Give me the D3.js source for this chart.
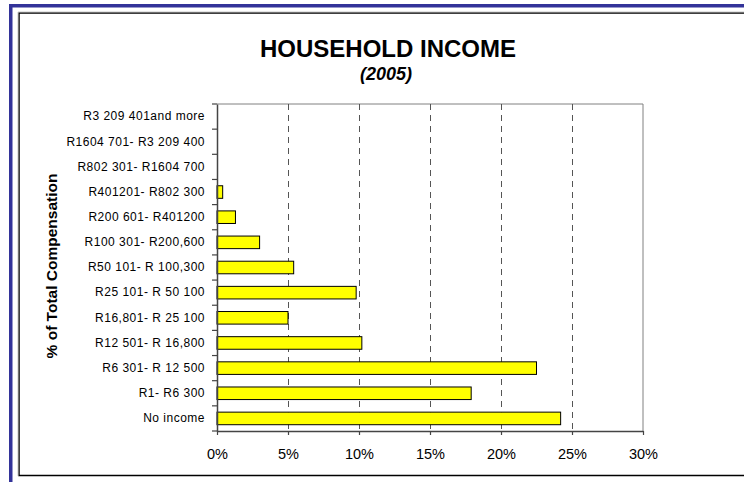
<!DOCTYPE html>
<html>
<head>
<meta charset="utf-8">
<script src="https://cdn.jsdelivr.net/npm/d3@7"></script>
<style>
  html, body { margin: 0; padding: 0; background: #fff; }
  svg { display: block; font-family: "Liberation Sans", Arial, sans-serif; }
</style>
</head>
<body>
<svg id="chart" width="744" height="482"></svg>
<script>
// Income brackets, top to bottom as listed on the axis
const categories = [
  "R3 209 401and more",
  "R1604 701- R3 209 400",
  "R802 301- R1604 700",
  "R401201- R802 300",
  "R200 601- R401200",
  "R100 301- R200,600",
  "R50 101- R 100,300",
  "R25 101- R 50 100",
  "R16,801- R 25 100",
  "R12 501- R 16,800",
  "R6 301- R  12 500",
  "R1- R6 300",
  "No income"
];
// Share of households in each bracket (%)
const values = [0, 0, 0, 0.4, 1.3, 3.0, 5.4, 9.8, 5.0, 10.2, 22.5, 17.9, 24.2];
const xTicks = [0, 5, 10, 15, 20, 25, 30];
const title = "HOUSEHOLD INCOME";
const subtitle = "(2005)";
const yTitle = "% of Total Compensation";

const svg = d3.select("#chart");

// outer frame: blue band on top and left, black chart border inside
svg.append("rect").attr("x", 9).attr("y", 4).attr("width", 735).attr("height", 3.5).attr("fill", "#333399");
svg.append("rect").attr("x", 9).attr("y", 4).attr("width", 3.5).attr("height", 478).attr("fill", "#333399");
svg.append("path")
  .attr("d", "M744,13 H19 V475.5 H744")
  .attr("fill", "none").attr("stroke", "#000").attr("stroke-width", 1.5);
svg.append("path")
  .attr("d", "M744,12 H18 V476")
  .attr("fill", "none").attr("stroke", "#bbb").attr("stroke-width", 0.8);

const plot = { left: 217, right: 643, top: 104, bottom: 431 };

const x = d3.scaleLinear().domain([0, 30]).range([plot.left, plot.right]);
const y = d3.scaleBand().domain(categories).range([plot.top, plot.bottom]).paddingInner(0.5).paddingOuter(0.25);
const yEdges = d3.scaleLinear().domain([0, categories.length]).range([plot.top, plot.bottom]);

// plot area outline (top and right)
svg.append("path")
  .attr("d", `M${plot.left},${plot.top} H${plot.right} V${plot.bottom}`)
  .attr("fill", "none").attr("stroke", "#808080").attr("stroke-width", 1);

// dashed vertical gridlines
svg.append("g")
  .selectAll("line")
  .data(xTicks.filter(t => t > 0 && t < 30))
  .join("line")
  .attr("x1", d => Math.round(x(d)) + 0.5).attr("x2", d => Math.round(x(d)) + 0.5)
  .attr("y1", plot.top).attr("y2", plot.bottom)
  .attr("stroke", "#555").attr("stroke-width", 1)
  .attr("stroke-dasharray", "6,5");

// bars
svg.append("g")
  .selectAll("rect")
  .data(categories.map((c, i) => ({ c, v: values[i] })).filter(d => d.v > 0))
  .join("rect")
  .attr("x", x(0))
  .attr("y", d => y(d.c))
  .attr("width", d => x(d.v) - x(0))
  .attr("height", y.bandwidth())
  .attr("fill", "#ffff00")
  .attr("stroke", "#000").attr("stroke-width", 1);

// x axis
const xAxis = svg.append("g")
  .attr("transform", `translate(0,${plot.bottom})`)
  .call(d3.axisBottom(x).tickValues(xTicks).tickFormat(d => d + "%").tickSize(4).tickSizeOuter(0).tickPadding(14));
xAxis.select(".domain").attr("stroke", "#444").attr("stroke-width", 1.5);
xAxis.selectAll(".tick line").attr("stroke", "#444").attr("stroke-width", 1.2);
xAxis.selectAll(".tick text").attr("font-size", "14.5px").attr("fill", "#000")
  .attr("font-family", "Liberation Sans, Arial, sans-serif");

// y axis: labels per band, ticks at band edges
const yAxis = svg.append("g")
  .attr("transform", `translate(${plot.left},0)`)
  .call(d3.axisLeft(y).tickSize(0).tickPadding(12));
yAxis.select(".domain").attr("stroke", "#444").attr("stroke-width", 1.5);
yAxis.selectAll(".tick text").attr("font-size", "12px").attr("fill", "#000")
  .attr("letter-spacing", "0.5px")
  .attr("font-family", "Liberation Sans, Arial, sans-serif");
yAxis.append("g")
  .selectAll("line")
  .data(d3.range(categories.length + 1))
  .join("line")
  .attr("x1", -5).attr("x2", 0)
  .attr("y1", d => yEdges(d)).attr("y2", d => yEdges(d))
  .attr("stroke", "#444").attr("stroke-width", 1.2);

// titles
svg.append("text")
  .attr("x", 388).attr("y", 56.5)
  .attr("text-anchor", "middle")
  .attr("font-size", "24px").attr("font-weight", "bold")
  .text(title);
svg.append("text")
  .attr("x", 386).attr("y", 80)
  .attr("text-anchor", "middle")
  .attr("font-size", "18px").attr("font-weight", "bold").attr("font-style", "italic")
  .text(subtitle);
svg.append("text")
  .attr("transform", `translate(57,266) rotate(-90)`)
  .attr("text-anchor", "middle")
  .attr("font-size", "15.5px").attr("font-weight", "bold")
  .text(yTitle);
</script>
</body>
</html>
